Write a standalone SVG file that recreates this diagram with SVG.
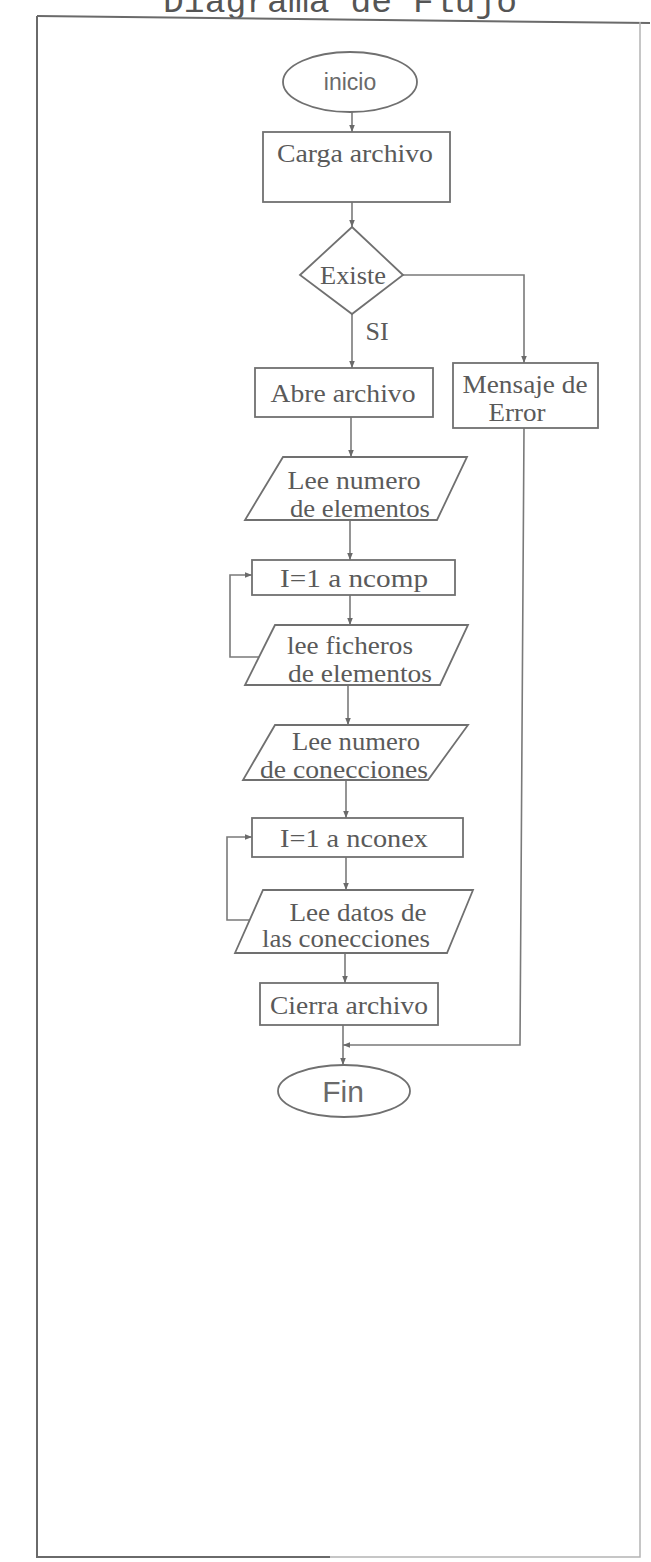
<svg xmlns="http://www.w3.org/2000/svg" width="651" height="1562" viewBox="0 0 651 1562">
  <style>
    .bg { fill: #ffffff; }
    .frame { fill: none; stroke: #6a6a6a; stroke-width: 2; }
    .frame-light { fill: none; stroke: #b4b4b4; stroke-width: 1.5; }
    .shape { fill: none; stroke: #707070; stroke-width: 1.8; }
    .edge { fill: none; stroke: #7a7a7a; stroke-width: 1.6; }
    .lbl { font-family: "Liberation Serif", "Times New Roman", serif; font-size: 26px; fill: #5a5a5a; text-anchor: middle; }
    .term { font-family: "Liberation Sans", Arial, sans-serif; fill: #6a6a6a; text-anchor: middle; }
    .title { font-family: "Liberation Mono", "Courier New", monospace; font-size: 34px; fill: #555555; }
  </style>
  <defs>
    <marker id="arr" viewBox="0 0 10 10" refX="10" refY="5" markerWidth="7" markerHeight="7" orient="auto" markerUnits="userSpaceOnUse">
      <path d="M0,1 L10,5 L0,9 z" fill="#6a6a6a"/>
    </marker>
  </defs>

  <rect class="bg" x="0" y="0" width="651" height="1562"/>

  <!-- page title and border -->
  <text class="title" x="163" y="12" textLength="354" lengthAdjust="spacingAndGlyphs">Diagrama de Flujo</text>
  <g id="border">
    <path class="frame" d="M37,16 L650,23"/>
    <path class="frame" d="M37,16 L37,1557 L330,1557"/>
    <path class="frame-light" d="M330,1557 L640,1557 L640,22"/>
  </g>

  <!-- connectors -->
  <g id="connectors">
    <path class="edge" d="M352,112 L352,132" marker-end="url(#arr)"/>
    <path class="edge" d="M352,202 L352,227" marker-end="url(#arr)"/>
    <path class="edge" d="M352,314 L352,368" marker-end="url(#arr)"/>
    <path class="edge" d="M403,275 L524,275 L524,363" marker-end="url(#arr)"/>
    <path class="edge" d="M351,417 L351,457" marker-end="url(#arr)"/>
    <path class="edge" d="M350,520 L350,560" marker-end="url(#arr)"/>
    <path class="edge" d="M350,595 L350,625" marker-end="url(#arr)"/>
    <path class="edge" d="M259,657 L230,657 L230,575 L252,575" marker-end="url(#arr)"/>
    <path class="edge" d="M348,685 L348,725" marker-end="url(#arr)"/>
    <path class="edge" d="M346,780 L346,818" marker-end="url(#arr)"/>
    <path class="edge" d="M346,857 L346,890" marker-end="url(#arr)"/>
    <path class="edge" d="M250,920 L227,920 L227,837 L252,837" marker-end="url(#arr)"/>
    <path class="edge" d="M345,953 L345,983" marker-end="url(#arr)"/>
    <path class="edge" d="M343,1025 L343,1065" marker-end="url(#arr)"/>
    <path class="edge" d="M524,428 L520,1045 L343,1045" marker-end="url(#arr)"/>
  </g>

  <!-- nodes -->
  <g id="inicio">
    <ellipse class="shape" cx="350" cy="82" rx="67" ry="30"/>
    <text class="term" x="350" y="90" font-size="23">inicio</text>
  </g>

  <g id="carga-archivo">
    <rect class="shape" x="263" y="132" width="187" height="70"/>
    <text class="lbl" x="355" y="162" textLength="156" lengthAdjust="spacingAndGlyphs">Carga archivo</text>
  </g>

  <g id="existe">
    <path class="shape" d="M352,227 L403,275 L352,314 L300,275 Z"/>
    <text class="lbl" x="353" y="284" font-size="24" textLength="66" lengthAdjust="spacingAndGlyphs">Existe</text>
  </g>
  <text id="lbl-si" class="lbl" x="377" y="340" font-size="22">SI</text>

  <g id="abre-archivo">
    <rect class="shape" x="255" y="368" width="178" height="49"/>
    <text class="lbl" x="343" y="402" textLength="145" lengthAdjust="spacingAndGlyphs">Abre archivo</text>
  </g>

  <g id="mensaje-error">
    <rect class="shape" x="453" y="363" width="145" height="65"/>
    <text class="lbl" x="525" y="393" textLength="125" lengthAdjust="spacingAndGlyphs">Mensaje de</text>
    <text class="lbl" x="517" y="421" textLength="57" lengthAdjust="spacingAndGlyphs">Error</text>
  </g>

  <g id="lee-num-elementos">
    <path class="shape" d="M283,457 L467,457 L437,520 L245,520 Z"/>
    <text class="lbl" x="354" y="489" textLength="133" lengthAdjust="spacingAndGlyphs">Lee numero</text>
    <text class="lbl" x="360" y="517" textLength="140" lengthAdjust="spacingAndGlyphs">de elementos</text>
  </g>

  <g id="for-ncomp">
    <rect class="shape" x="252" y="560" width="203" height="35"/>
    <text class="lbl" x="354" y="587" textLength="148" lengthAdjust="spacingAndGlyphs">I=1 a ncomp</text>
  </g>

  <g id="lee-ficheros">
    <path class="shape" d="M275,625 L468,625 L440,685 L245,685 Z"/>
    <text class="lbl" x="350" y="654" textLength="126" lengthAdjust="spacingAndGlyphs">lee ficheros</text>
    <text class="lbl" x="360" y="682" textLength="144" lengthAdjust="spacingAndGlyphs">de elementos</text>
  </g>

  <g id="lee-num-conecciones">
    <path class="shape" d="M275,725 L468,725 L428,780 L243,780 Z"/>
    <text class="lbl" x="356" y="750" textLength="128" lengthAdjust="spacingAndGlyphs">Lee numero</text>
    <text class="lbl" x="344" y="778" textLength="168" lengthAdjust="spacingAndGlyphs">de conecciones</text>
  </g>

  <g id="for-nconex">
    <rect class="shape" x="252" y="818" width="211" height="39"/>
    <text class="lbl" x="354" y="847" textLength="148" lengthAdjust="spacingAndGlyphs">I=1 a nconex</text>
  </g>

  <g id="lee-datos">
    <path class="shape" d="M263,890 L473,890 L447,953 L235,953 Z"/>
    <text class="lbl" x="358" y="921" textLength="137" lengthAdjust="spacingAndGlyphs">Lee datos de</text>
    <text class="lbl" x="346" y="947" textLength="168" lengthAdjust="spacingAndGlyphs">las conecciones</text>
  </g>

  <g id="cierra-archivo">
    <rect class="shape" x="260" y="983" width="178" height="42"/>
    <text class="lbl" x="349" y="1014" textLength="158" lengthAdjust="spacingAndGlyphs">Cierra archivo</text>
  </g>

  <g id="fin">
    <ellipse class="shape" cx="344" cy="1091" rx="66" ry="26"/>
    <text class="term" x="343" y="1102" font-size="30">Fin</text>
  </g>
</svg>
